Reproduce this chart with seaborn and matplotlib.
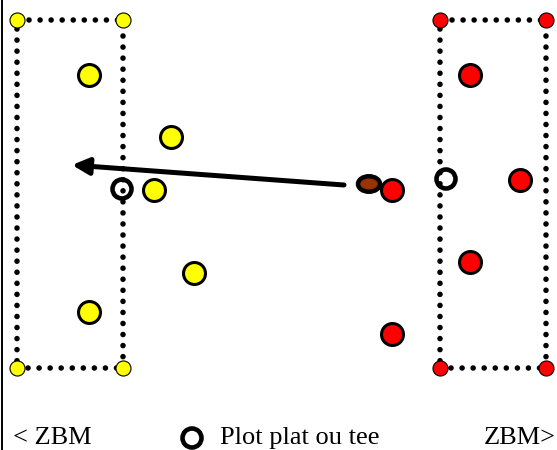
import pandas as pd
import seaborn as sns
import matplotlib.pyplot as plt
from matplotlib.patches import Ellipse

sns.set_theme(style="white")
plt.rcParams["font.family"] = ["Liberation Serif", "DejaVu Serif"]

# everything is in picture pixels, y going down
left_big_x = [89, 171, 154, 194, 89]
left_big_y = [75, 137, 190, 273, 312]
right_big_x = [470, 520, 392, 470, 392]
right_big_y = [75, 180, 190, 262, 334]
left_corner_x = [17, 123, 17, 123]
right_corner_x = [440, 546, 440, 546]
corner_y = [20, 20, 368, 368]
tee_x = [122, 446, 192]
tee_y = [189, 179, 438]
ball_xy = (369, 184)
arrow_start = (344, 185)
arrow_end = (72, 165)
labels = ["< ZBM", "Plot plat ou tee", "ZBM>"]
label_x = [13, 220, 484]
label_y = 444

fig, ax = plt.subplots(figsize=(5.57, 4.5), dpi=100)
ax.set_position([0, 0, 1, 1])


def dotted(xs, ys):
    # one dotted side of a box, round dots 11px apart
    n = len(ax.lines)
    sns.lineplot(x=xs, y=ys, sort=False, estimator=None, color="black", ax=ax, zorder=1)
    line = ax.lines[n]
    line.set_linewidth(4.0)
    line.set_linestyle((0, (0.01, 1.98)))
    line.set_dash_capstyle("round")


for x0, x1 in [(17, 123), (440, 546)]:
    dotted([x0, x0], [29, 368])
    dotted([x1, x1], [36, 368])
    dotted([x0 + 12, x1], [20, 20])
    dotted([x0 + 11, x1], [368, 368])

ax.axvline(1.5, color="black", lw=1.4, zorder=1)

# corners
sns.scatterplot(x=left_corner_x, y=corner_y, s=117, color="#ffff00", edgecolor="black", linewidth=0.8, ax=ax, zorder=3)
sns.scatterplot(x=right_corner_x, y=corner_y, s=117, color="#ff0000", edgecolor="black", linewidth=0.8, ax=ax, zorder=3)

# ball sits under the red circle next to it
ax.add_patch(Ellipse(ball_xy, 22, 15.5, facecolor="#993300", edgecolor="black", lw=3.2, zorder=2))

sns.scatterplot(x=left_big_x, y=left_big_y, s=250, color="#ffff00", edgecolor="black", linewidth=2.2, ax=ax, zorder=3)
sns.scatterplot(x=right_big_x, y=right_big_y, s=250, color="#ff0000", edgecolor="black", linewidth=2.2, ax=ax, zorder=3)

# open tee markers
sns.scatterplot(x=tee_x, y=tee_y, s=187, facecolor="none", edgecolor="black", linewidth=3.3, ax=ax, zorder=3)

ax.annotate("", xy=arrow_end, xytext=arrow_start,
            arrowprops=dict(arrowstyle="-|>,head_length=0.5,head_width=0.25", color="black", lw=3.6,
                            shrinkA=0, shrinkB=0, mutation_scale=20), zorder=4)

for txt, x in zip(labels, label_x):
    ax.text(x, label_y, txt, fontsize=19, color="black", va="baseline", ha="left")

ax.set_xlim(0, 557)
ax.set_ylim(450, 0)
ax.axis("off")
fig.savefig("out.png", dpi=100)
